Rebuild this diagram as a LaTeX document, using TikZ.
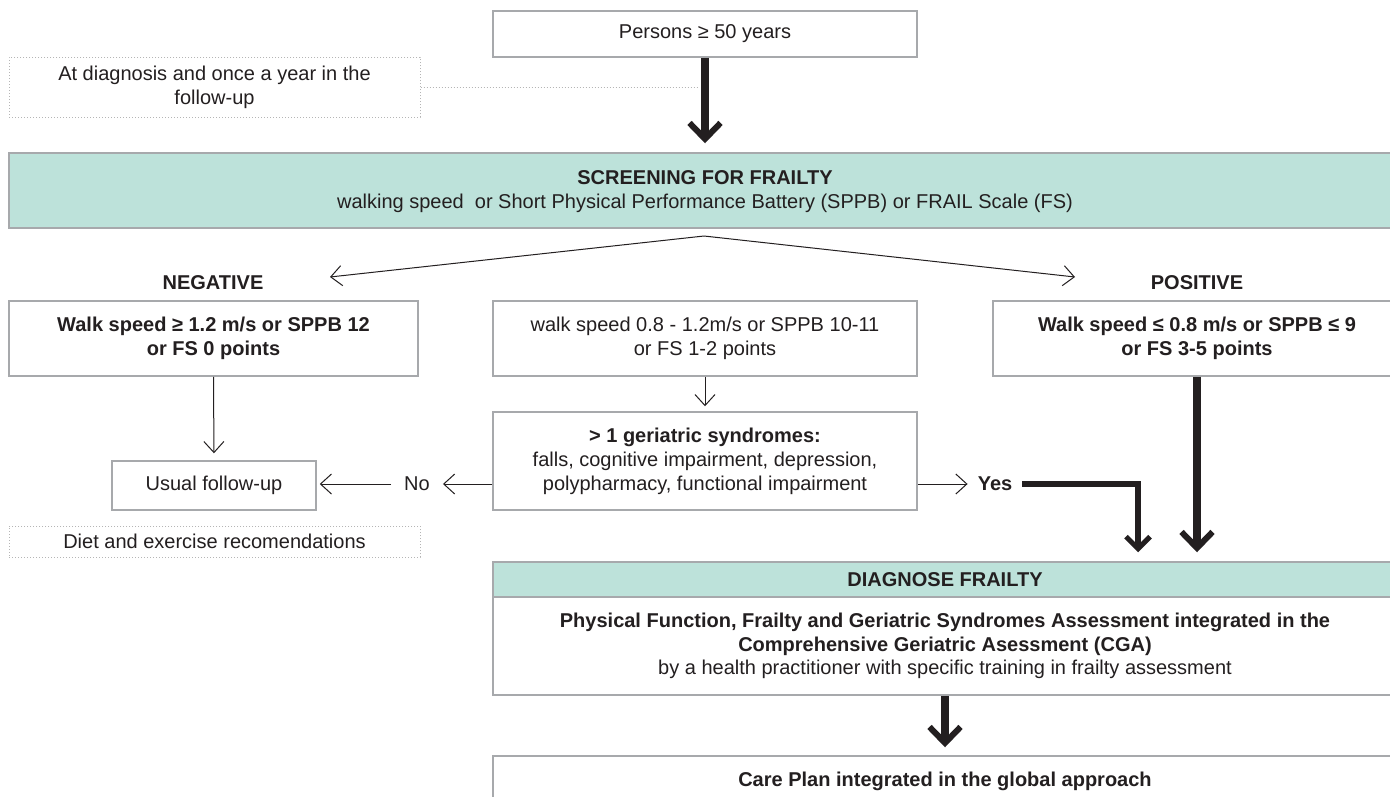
\documentclass[tikz,border=0pt]{standalone}
\usepackage{fontspec}
\setmainfont{Liberation Sans}
\usetikzlibrary{arrows.meta}
\definecolor{tealfill}{HTML}{BDE2DA}
\definecolor{bord}{HTML}{A7A9AC}
\definecolor{dotc}{HTML}{B5B5B5}
\definecolor{txt}{HTML}{231F20}
\begin{document}
\begin{tikzpicture}[x=1pt,y=-1pt,
  every node/.style={font=\fontsize{20}{24}\selectfont, text=txt, align=center},
  box/.style={draw=bord, line width=1.5pt, fill=white, inner sep=0pt},
  tealbox/.style={box, fill=tealfill},
  dotbox/.style={draw=dotc, dotted, line width=1pt, inner sep=0pt},
  plain/.style={inner sep=0pt},
  thinarr/.style={draw=txt, line width=1pt, -{Straight Barb[length=11pt,width=20pt]}},
  thickarr/.style={draw=txt, line width=7.5pt, -{Straight Barb[length=16pt,width=31pt,line width=6pt]}},
  medarr/.style={draw=txt, line width=5.5pt, -{Straight Barb[length=12pt,width=24pt,line width=5pt]}}
]
\useasboundingbox (0,0) rectangle (1390,796);
\fill[white] (0,0) rectangle (1390,796);

% top
\node[box, minimum width=424pt, minimum height=46pt] (persons) at (705,34) {Persons ≥ 50 years};
\node[dotbox, minimum width=411pt, minimum height=60pt] (when) at (214.5,87) {At diagnosis and once a year in the\\follow-up};

% screening
\node[tealbox, minimum width=1392pt, minimum height=75pt] (screen) at (705,190.5) {};
\node[plain, font=\fontsize{20}{24}\selectfont] (screentxt) at (705,192) {\textbf{SCREENING FOR FRAILTY}\\walking speed\ \ or Short Physical Performance Battery (SPPB) or FRAIL Scale (FS)};

% labels
\node[plain, font=\fontsize{20}{24}\selectfont\bfseries] (neglbl) at (213,283) {NEGATIVE};
\node[plain, font=\fontsize{20}{24}\selectfont\bfseries] (poslbl) at (1197,283) {POSITIVE};

% row of boxes
\node[box, minimum width=409pt, minimum height=75pt, font=\fontsize{20}{24}\selectfont\bfseries] (neg) at (213.5,338.5) {Walk speed ≥ 1.2 m/s or SPPB 12\\or FS 0 points};
\node[box, minimum width=424pt, minimum height=75pt] (mid) at (705,338.5) {walk speed 0.8 - 1.2m/s or SPPB 10-11\\or FS 1-2 points};
\node[box, minimum width=408pt, minimum height=75pt, font=\fontsize{20}{24}\selectfont\bfseries] (pos) at (1197,338.5) {Walk speed ≤ 0.8 m/s or SPPB ≤ 9\\or FS 3-5 points};

% geriatric
\node[box, minimum width=424pt, minimum height=98pt] (ger) at (705,461) {\textbf{> 1 geriatric syndromes:}\\falls, cognitive impairment, depression,\\polypharmacy, functional impairment};
\node[box, minimum width=204pt, minimum height=49pt] (usual) at (214,485.5) {Usual follow-up};
\node[dotbox, minimum width=411pt, minimum height=31pt] (diet) at (214.5,541.5) {Diet and exercise recomendations};

\node[inner xsep=13pt, inner ysep=0pt] (no) at (417,484) {No};
\node[inner xsep=10pt, inner ysep=0pt, font=\fontsize{20}{24}\selectfont\bfseries] (yes) at (995,484) {Yes};

% diagnose
\node[tealbox, minimum width=904pt, minimum height=35pt, font=\fontsize{20}{24}\selectfont\bfseries] (diaghead) at (945,579.5) {DIAGNOSE FRAILTY};
\node[box, minimum width=904pt, minimum height=98pt] (diagbody) at (945,646) {\textbf{Physical Function, Frailty and Geriatric Syndromes Assessment integrated in the}\\[-0.5pt]\textbf{Comprehensive Geriatric Asessment (CGA)}\\[-0.5pt]by a health practitioner with specific training in frailty assessment};
\node[box, minimum width=904pt, minimum height=50pt, font=\fontsize{20}{24}\selectfont\bfseries] (care) at (945,781) {Care Plan integrated in the global approach};

% coordinates
\coordinate (split) at (704,236);
\coordinate (negtip) at (330,277);
\coordinate (postip) at (1075,277);
\coordinate (yescol) at (1138,0);

% connectors
\draw[dotc, dotted, line width=1pt, shorten >=6pt] (when.east) -- (when.east -| persons.south);
\draw[thickarr, shorten >=9pt] (persons.south) -- (persons.south |- screen.north);
\draw[thinarr] (split) -- (negtip);
\draw[thinarr] (split) -- (postip);
\draw[thinarr, shorten >=7pt] (neg.south) -- (usual.north);
\draw[thinarr, shorten >=5pt] (mid.south) -- (ger.north);
\draw[thinarr] (ger.west |- no.east) -- (no.east);
\draw[thinarr, shorten >=3pt] (no.west) -- (usual.east |- no.west);
\draw[thinarr] (ger.east |- yes.west) -- (yes.west);
\draw[medarr, shorten >=9pt] (yes.east) -| (diaghead.north -| yescol);
\draw[thickarr, shorten >=9pt] (pos.south) -- (pos.south |- diaghead.north);
\draw[thickarr, shorten >=8pt] (diagbody.south) -- (care.north);
\end{tikzpicture}
\end{document}
